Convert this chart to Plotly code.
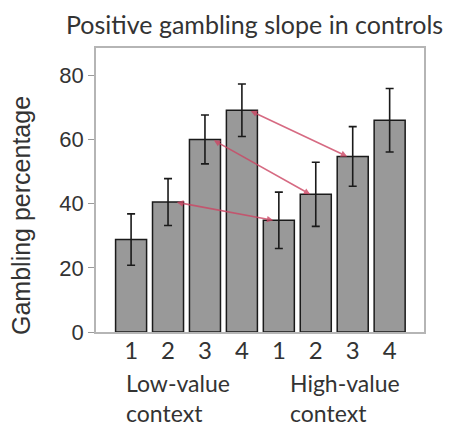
import plotly.graph_objects as go

# ---- data ----
positions = [1, 2, 3, 4, 5, 6, 7, 8]
tick_labels = ["1", "2", "3", "4", "1", "2", "3", "4"]
gamble_pct = [28.8, 40.5, 60.0, 69.1, 34.8, 42.9, 54.7, 66.0]
gamble_err = [8.0, 7.3, 7.6, 8.2, 8.8, 10.0, 9.3, 9.9]
context_labels = ["Low-value<br>context", "High-value<br>context"]
arrow_from = [2, 3, 4]   # low-value context bars
arrow_to = [5, 6, 7]     # high-value context bars

# page has an 8px body margin, so the figure is sized to fit the window
W, H = 446, 424
L, R, T, B = 88, 30, 40, 100
PW, PH = W - L - R, H - T - B

fig = go.Figure()
fig.add_trace(go.Bar(
    x=positions, y=gamble_pct, width=0.84,
    marker=dict(color="#999999", line=dict(color="#1a1a1a", width=1.5)),
    error_y=dict(type="data", array=gamble_err, visible=True,
                 color="#1a1a1a", thickness=1.6, width=4),
    showlegend=False,
))

annotations = []
for a, b in zip(arrow_from, arrow_to):
    ya = gamble_pct[a - 1]
    yb = gamble_pct[b - 1]
    annotations.append(dict(
        x=b - 0.15, y=yb, ax=a + 0.2, ay=ya,
        xref="x", yref="y", axref="x", ayref="y",
        showarrow=True, arrowhead=2, startarrowhead=2, arrowside="end+start",
        arrowsize=0.8, startarrowsize=0.8, arrowwidth=1.6, arrowcolor="rgba(205,70,100,0.8)",
        text="",
    ))

font_cal = "Lato, 'Open Sans', sans-serif"
font_ar = "'Liberation Sans', Arial, sans-serif"

for xpos, lab in zip([0.80, 5.24], context_labels):
    annotations.append(dict(x=xpos, y=-35 / PH, xref="x", yref="paper", xanchor="left", yanchor="top",
                            align="left", text=lab, showarrow=False,
                            font=dict(family=font_cal, size=23, color="#333333")))
annotations.append(dict(x=(13 - L) / PW, y=(324 - 208) / PH, xref="paper", yref="paper",
                        text="Gambling percentage", textangle=-90, showarrow=False,
                        xanchor="center", yanchor="middle",
                        font=dict(family=font_ar, size=25, color="#333333")))
annotations.append(dict(x=(246 - L) / PW, y=(324 + 0) / PH, xref="paper", yref="paper",
                        text="Positive gambling slope in controls", showarrow=False,
                        xanchor="center", yanchor="top", borderpad=0,
                        font=dict(family=font_cal, size=25, color="#333333")))

fig.update_layout(
    width=W, height=H,
    margin=dict(l=L, r=R, t=T, b=B),
    paper_bgcolor="white", plot_bgcolor="white",
    annotations=annotations,
    xaxis=dict(range=[0.05, 8.93], tickvals=positions, ticktext=tick_labels,
               showline=True, mirror=True, linecolor="#b5b5b5", linewidth=1.5,
               showgrid=False, zeroline=False, ticks="", automargin=False,
               ticklabelstandoff=-4,
               tickfont=dict(family=font_cal, size=24, color="#333333")),
    yaxis=dict(range=[0, 88.5], tickvals=[0, 20, 40, 60, 80],
               showline=True, mirror=True, linecolor="#b5b5b5", linewidth=1.5,
               showgrid=False, zeroline=False, ticks="outside", ticklen=6,
               tickcolor="#9a9a9a", tickwidth=1.2, automargin=False,
               tickfont=dict(family=font_ar, size=22, color="#333333")),
)

fig.write_html("out.html")
